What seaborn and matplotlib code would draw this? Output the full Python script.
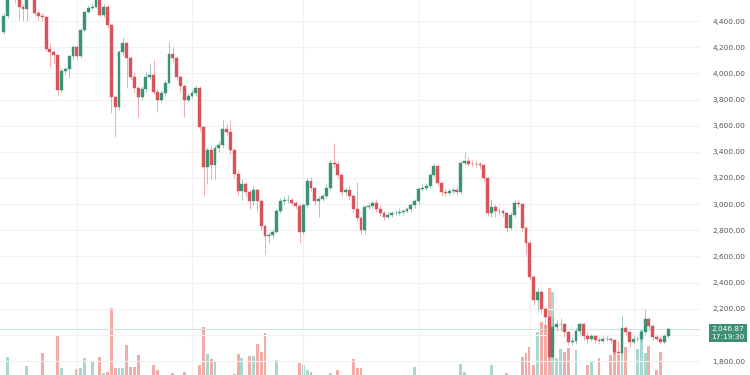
import numpy as np
import pandas as pd
import matplotlib
matplotlib.use("Agg")
import matplotlib.pyplot as plt
import seaborn as sns

# daily candles, oldest first
closes = [
    4440, 4590, 4620, 4580, 4510, 4490, 4590, 4620, 4460, 4440,
    4430, 4190, 4160, 4140, 3870, 4020, 4030, 4130, 4200, 4135,
    4330, 4470, 4500, 4510, 4570, 4450, 4510, 4370, 3820, 3745,
    4160, 4230, 4120, 3975, 3890, 3820, 3880, 3975, 3985, 3860,
    3800, 3850, 3930, 4150, 4120, 3975, 3900, 3800, 3830, 3850,
    3890, 3590, 3285, 3415, 3300, 3430, 3450, 3575, 3555, 3410,
    3230, 3100, 3150, 3090, 3020, 3110, 3020, 2830, 2755, 2760,
    2790, 2945, 3020, 3030, 3035, 3010, 2985, 2790, 2990, 3180,
    3125, 3020, 3040, 3060, 3125, 3315, 3310, 3225, 3095, 3110,
    3060, 2965, 2895, 2800, 2975, 2985, 3005, 2965, 2935, 2905,
    2920, 2930, 2935, 2940, 2945, 2960, 2990, 3020, 3115, 3125,
    3135, 3225, 3295, 3165, 3095, 3085, 3100, 3105, 3095, 3315,
    3330, 3310, 3308, 3305, 3300, 3200, 2935, 2975, 2945, 2945,
    2930, 2815, 2920, 3010, 3000, 2820, 2705, 2445, 2270, 2330,
    2200, 2140, 1830, 2060, 2080, 2085, 2020, 1945, 1950, 2030,
    2080, 1990, 1965, 1990, 1960, 1955, 1965, 1970, 1960, 1870,
    1860, 2050, 2020, 1945, 1965, 1970, 2020, 2125, 2065, 1980,
    1970, 1945, 1990, 2047]
opens = [4320] + closes[:-1]
highs = [
    4460, 4610, 4660, 4640, 4600, 4530, 4610, 4660, 4640, 4480,
    4460, 4440, 4230, 4180, 4150, 4040, 4050, 4140, 4220, 4210,
    4340, 4480, 4520, 4540, 4600, 4590, 4530, 4520, 4380, 3830,
    4180, 4280, 4240, 4130, 4000, 3900, 3900, 4010, 4080, 4100,
    3880, 3870, 3950, 4240, 4200, 4130, 3990, 3910, 3850, 3870,
    3910, 3900, 3600, 3440, 3450, 3450, 3480, 3645, 3620, 3640,
    3420, 3250, 3190, 3170, 3110, 3140, 3120, 3040, 2850, 2790,
    2810, 2960, 3050, 3060, 3070, 3050, 3020, 3000, 3010, 3200,
    3210, 3130, 3060, 3080, 3150, 3340, 3470, 3330, 3240, 3130,
    3140, 3080, 3170, 2910, 2990, 3010, 3020, 3040, 2990, 2950,
    2940, 2950, 2955, 2970, 2960, 2980, 3010, 3040, 3130, 3150,
    3160, 3240, 3310, 3310, 3180, 3120, 3120, 3130, 3130, 3330,
    3400, 3360, 3340, 3330, 3320, 3310, 3210, 3040, 3000, 2970,
    2960, 2940, 2940, 3030, 3030, 3010, 2830, 2720, 2460, 2360,
    2340, 2220, 2150, 2140, 2110, 2130, 2090, 2030, 1980, 2050,
    2095, 2090, 2020, 2010, 2000, 1980, 1990, 1990, 1980, 1970,
    1950, 2155, 2070, 2030, 2000, 1990, 2040, 2195, 2140, 2080,
    2000, 1990, 2010, 2060]
lows = [
    4300, 4420, 4570, 4540, 4410, 4400, 4400, 4580, 4440, 4410,
    4400, 4170, 4050, 4080, 3830, 3860, 3990, 3965, 4110, 4100,
    4120, 4320, 4460, 4490, 4500, 4430, 4430, 4350, 3700, 3510,
    3720, 4140, 3890, 3950, 3860, 3670, 3800, 3860, 3960, 3840,
    3705, 3780, 3830, 3930, 4090, 3950, 3860, 3670, 3780, 3810,
    3830, 3560, 3060, 3150, 3190, 3190, 3400, 3430, 3530, 3380,
    3200, 3070, 3030, 3060, 2960, 2990, 2940, 2800, 2620, 2700,
    2740, 2780, 2930, 3000, 3010, 2990, 2960, 2705, 2770, 2970,
    3100, 2990, 2905, 3020, 3050, 3110, 3280, 3200, 3060, 3070,
    3030, 2940, 2870, 2770, 2770, 2960, 2970, 2940, 2910, 2880,
    2890, 2900, 2915, 2920, 2920, 2930, 2940, 2970, 3000, 3100,
    3110, 3120, 3210, 3140, 3060, 3060, 3070, 3080, 3070, 3080,
    3300, 3290, 3290, 3280, 3270, 3180, 2910, 2900, 2900, 2920,
    2900, 2790, 2800, 2900, 2980, 2790, 2620, 2420, 2230, 2180,
    2160, 2040, 1800, 1820, 2030, 2040, 1980, 1920, 1920, 1930,
    2010, 1960, 1940, 1950, 1940, 1930, 1940, 1950, 1940, 1850,
    1840, 1850, 2000, 1910, 1930, 1950, 1950, 2000, 2040, 1960,
    1950, 1930, 1930, 1975]
volumes = [
    0, 18, 0, 0, 0, 0, 9, 0, 0, 0,
    22, 0, 0, 0, 40, 7, 0, 0, 0, 6,
    7, 17, 0, 13, 0, 18, 2, 3, 67, 7,
    7, 7, 30, 8, 8, 20, 0, 0, 0, 10,
    5, 0, 0, 0, 2, 0, 0, 3, 0, 0,
    0, 10, 48, 21, 16, 13, 0, 0, 0, 0,
    1, 21, 17, 0, 19, 19, 31, 23, 42, 0,
    0, 15, 0, 0, 0, 0, 0, 12, 10, 5,
    3, 0, 0, 0, 0, 2, 0, 5, 0, 0,
    0, 16, 7, 7, 0, 0, 0, 0, 0, 0,
    0, 0, 0, 0, 0, 0, 0, 8, 0, 0,
    0, 0, 0, 0, 0, 0, 0, 0, 0, 11,
    3, 0, 0, 0, 0, 0, 0, 10, 0, 0,
    0, 2, 0, 0, 0, 18, 22, 28, 10, 43,
    53, 50, 87, 83, 17, 26, 23, 27, 0, 25,
    0, 0, 10, 13, 0, 17, 0, 0, 20, 23,
    20, 25, 28, 0, 0, 26, 45, 22, 29, 0,
    5, 23, 0, 0]
month_starts = [19, 49, 78, 108, 137, 164]
price_ticks = [1800, 2000, 2200, 2400, 2600, 2800, 3000, 3200, 3400, 3600, 3800, 4000, 4200, 4400]
last_price = 2046.87
last_label = "2,046.87\n17:19:30"

UP, DOWN = "#3b9376", "#d9535a"
UP_VOL, DOWN_VOL = "#a7d7cf", "#f2aba7"

df = pd.DataFrame({"open": opens, "high": highs, "low": lows,
                   "close": closes, "volume": volumes})
df["idx"] = np.arange(len(df))
df["dir"] = np.where(df["close"] >= df["open"], "up", "down")

sns.set_theme(style="white")
plt.rcParams["font.family"] = ["DejaVu Sans"]

fig = plt.figure(figsize=(7.5, 3.75), dpi=100)
ax = fig.add_axes([0, 0, 700 / 750, 1])
axv = ax.twinx()

# volume behind the candles
sns.barplot(data=df, x="idx", y="volume", native_scale=True, width=0.75,
            errorbar=None, color=UP_VOL, saturation=1, ax=axv)
for p, d in zip(axv.patches, df["dir"]):
    p.set_facecolor(UP_VOL if d == "up" else DOWN_VOL)
    p.set_edgecolor("none")
axv.set_ylim(0, 375)
axv.set_yticks([])
axv.set_ylabel("")
axv.set_xlabel("")
ax.set_zorder(axv.get_zorder() + 1)
ax.patch.set_visible(False)

cols = [UP if d == "up" else DOWN for d in df["dir"]]
ax.vlines(df["idx"], df["low"], df["high"], colors=cols, lw=0.6, alpha=0.55)
ax.bar(df["idx"], df["close"] - df["open"], bottom=df["open"], width=0.75,
       color=cols, edgecolor=cols, linewidth=0.3)

ax.axhline(last_price, color="#cfe2dd", lw=0.8, zorder=0)

ax.set_xlim(-1, 181.3)
ax.set_ylim(1693, 4561)
ax.set_xticks(month_starts)
ax.set_xticklabels([])
ax.yaxis.tick_right()
ax.set_yticks(price_ticks)
# the 2,000 label sits under the last-price tag, so it is left blank
ax.set_yticklabels(["" if v == 2000 else f"{v:,.2f}" for v in price_ticks])
ax.tick_params(axis="y", length=0, pad=9, labelsize=5.3, labelcolor="#555555")
ax.tick_params(axis="x", length=0)
ax.grid(True, color="#f1f1f1", lw=0.8)
axv.grid(False)
for a in (ax, axv):
    for s in a.spines.values():
        s.set_visible(False)
axv.set_xlim(ax.get_xlim())

fig.text(728 / 750, 1 - 333 / 375, last_label, ha="center", va="center", fontsize=5.3,
         color="white", linespacing=1.35,
         bbox=dict(boxstyle="square,pad=0.3", facecolor="#3f9073", edgecolor="none"))

fig.savefig("out.png", dpi=100)
